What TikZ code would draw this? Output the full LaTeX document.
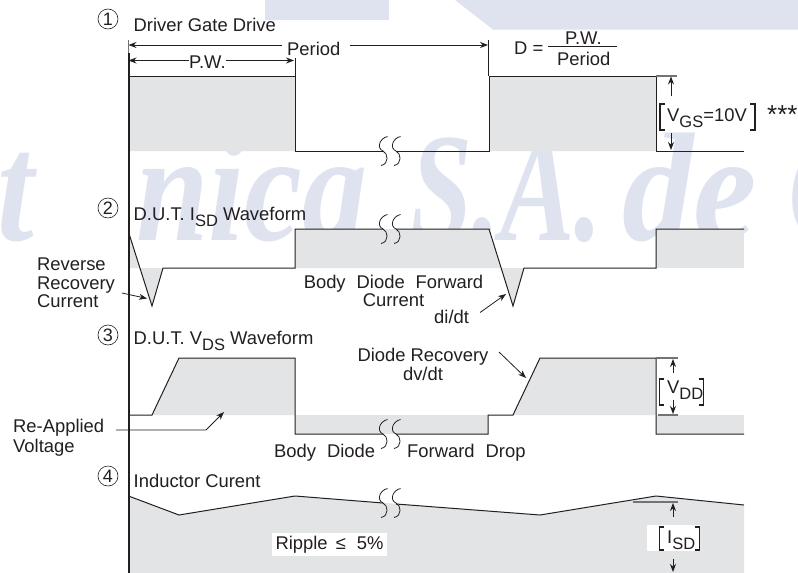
\documentclass[tikz,border=0pt]{standalone}
\usepackage{fontspec}
\setmainfont{Liberation Sans}
\newfontfamily\wmfont{Liberation Serif}
\usetikzlibrary{arrows.meta}
\definecolor{wavegray}{HTML}{E3E4E6}
\definecolor{wmblue}{HTML}{DFE3EF}
\definecolor{ink}{HTML}{231F20}
\newcommand{\subsc}[1]{\raisebox{-6.5pt}{\fontsize{16.5}{16.5}\selectfont #1}}
\newcommand{\gp}{\hspace{11pt}}
\newcommand{\wmtext}[2]{\scalebox{#1}[1]{#2}}
\newcommand{\skewbreak}[2]{%
    \foreach \s in {0,13} {
        \draw[thinline] (#1+\s+4.5,#2-14.5) .. controls (#1+\s-3,#2-13) and (#1+\s-7,#2-3) .. (#1+\s,#2) .. controls (#1+\s+5,#2+2) and (#1+\s+6.5,#2+13) .. (#1+\s-2,#2+14.5);
    }
}
\tikzset{
    every node/.style={font=\fontsize{18.4}{18.4}\selectfont,inner sep=0pt,text=ink},
    label/.style={anchor=base west},
    wave/.style={draw=ink,line width=1pt},
    thinline/.style={draw=ink,line width=0.8pt},
    tick/.style={draw=black!55,line width=1.2pt},
    bracket/.style={draw=ink,line width=1.8pt},
    numdot/.style={circle,draw=ink,line width=0.6pt,minimum size=20pt,font=\fontsize{18}{18}\selectfont},
    wmark/.style={anchor=base west,text=wmblue,font=\wmfont\bfseries\itshape\fontsize{155}{155}\selectfont},
}
\begin{document}
\begin{tikzpicture}[>={Stealth[length=8pt,width=6pt]},x=1pt,y=-1pt,line join=miter]
    \def\xa{128.5} \def\xb{295} \def\xc{489} \def\xd{656} \def\xe{744}
    \clip (0,0) rectangle (798,573);
    \fill[white] (0,0) rectangle (798,573);
    % watermark
    \fill[wmblue] (265,0) rectangle (389,20);
    \fill[wmblue] (455,0)--(798,0)--(798,29.5)--(493,29.5)--cycle;
    \node[wmark] (wmt) at (-3,240) {\wmtext{0.85}{t}};
    \node[wmark] (wmnica) at (136,240) {\wmtext{0.84}{nica}};
    \node[wmark] (wmsa) at (410,240) {\wmtext{0.72}{S.A.}};
    \node[wmark] (wmde) at (622,240) {\wmtext{0.92}{de}};
    \node[wmark] (wmc) at (788,240) {\wmtext{0.8}{C}};
    % gray areas
    \fill[wavegray] (\xa,76) rectangle (\xb,151) (\xc,76) rectangle (\xd,151);
    \fill[wavegray] (\xa,232)--(152,306)--(163,268)--(\xa,268)--cycle;
    \fill[wavegray] (\xb,229)--(\xc,229)--(513,306)--(524,268)--(\xb,268)--cycle;
    \fill[wavegray] (\xd,229) rectangle (\xe,268);
    \fill[wavegray] (152,415)--(179,358)--(\xb,358)--(\xb,415)--cycle;
    \fill[wavegray] (\xb,415) rectangle (488,434);
    \fill[wavegray] (513,415)--(540,358)--(\xd,358)--(\xd,415)--cycle;
    \fill[wavegray] (\xd,415) rectangle (\xe,434);
    \fill[wavegray] (\xa,496)--(179,515)--(\xb,496)--(540,515)--(\xd,496)--(\xe,505)--(\xe,573)--(\xa,573)--cycle;
    % waveforms
    \draw[wave] (\xa,76)--(\xb,76)--(\xb,151)--(383,151);
    \draw[wave] (396,151)--(\xc,151)--(\xc,76)--(\xd,76)--(\xd,151)--(\xe,151);
    \draw[wave] (\xa,232)--(152,306)--(163,268)--(\xb,268)--(\xb,229)--(383,229);
    \draw[wave] (396,229)--(\xc,229)--(513,306)--(524,268)--(\xd,268)--(\xd,229)--(\xe,229);
    \draw[wave] (\xa,415)--(152,415)--(179,358)--(\xb,358)--(\xb,434)--(383,434);
    \draw[wave] (396,434)--(488,434)--(488,415)--(513,415)--(540,358)--(\xd,358)--(\xd,434)--(\xe,434);
    \draw[wave] (\xa,496)--(179,515)--(\xb,496)--(383,503);
    \draw[wave] (396,504)--(540,515)--(\xd,496)--(\xe,505);
    \skewbreak{383}{151} \skewbreak{383}{229} \skewbreak{383}{434} \skewbreak{383}{503}
    % axis
    \draw[tick,line width=1pt] (\xa,40)--(\xa,54);
    \draw[ink,line width=2pt] (\xa,53)--(\xa,573);
    \draw[thinline] (\xb,58)--(\xb,76);
    \draw[thinline] (\xc-0.5,40)--(\xc-0.5,76);
    % numbers and titles
    \node[numdot] (one) at (108,19) {1};
    \node[numdot] (two) at (108,208) {2};
    \node[numdot] (three) at (108,335) {3};
    \node[numdot] (four) at (108,476) {4};
    \node[label] (gatedrive) at (133.5,31) {Driver Gate Drive};
    \node[label] (isdwave) at (133.5,220) {D.U.T. I\subsc{SD} Waveform};
    \node[label] (vdswave) at (133.5,344) {D.U.T. V\subsc{DS} Waveform};
    \node[label] (indcur) at (133.5,487) {Inductor Curent};
    % period
    \node[label] (period) at (287,55) {Period};
    \node[label] (pw) at (189,68) {P.W.};
    \coordinate (pera) at (\xa,45);
    \coordinate (perb) at (\xc-1,45);
    \coordinate (pwa) at (\xa,60.5);
    \coordinate (pwb) at (\xb-1,60.5);
    \draw[thinline,<-] (pera)--([xshift=-5pt]period.west |- pera);
    \draw[thinline,->] ([xshift=9pt]period.east |- perb)--(perb);
    \draw[thinline,<-] (pwa)--(pw.west |- pwa);
    \draw[thinline,->] (pw.east |- pwb)--(pwb);
    \node[label] (dutyd) at (514,54) {D =};
    \node[label] (dutypw) at (565,44) {P.W.};
    \node[label] (dutyper) at (557,65) {Period};
    \coordinate (fraca) at (548,46);
    \coordinate (fracb) at (617,46);
    \draw[thinline] (fraca)--(fracb);
    % gate voltage
    \node[label] (vgs) at (667,121) {V\subsc{GS}=10V};
    \node[label,font=\fontsize{26}{26}\selectfont] (stars) at (767,123) {***};
    \draw[tick] (\xd,76)--(677,76);
    \coordinate (vgstop) at (671,76.5);
    \coordinate (vgsbot) at (671,150);
    \draw[thinline,->] (671,96)--(vgstop);
    \draw[thinline,->] (671,133)--(vgsbot);
    \draw[bracket] (665,104)--(660,104)--(660,130)--(665,130);
    \draw[bracket] (750,104)--(755,104)--(755,130)--(750,130);
    % diode current
    \node[anchor=north west,align=left] (revrec) at (37,258) {Reverse\\[0pt]Recovery\\[0pt]Current};
    \coordinate (revrecs) at (122,293);
    \coordinate (revrect) at (147,298.5);
    \draw[thinline,->] (revrecs)--(revrect);
    \node[anchor=north,align=center] (bodyfwd) at (393.5,275) {Body\gp Diode\gp Forward\\[0pt]Current};
    \node[label] (didt) at (434,323) {di/dt};
    \coordinate (didtt) at (506,294);
    \draw[thinline,->] ([xshift=11pt,yshift=4pt]didt.east)--(didtt);
    % drain voltage
    \node[anchor=north,align=center] (diorec) at (423,348) {Diode Recovery\\[1pt]dv/dt};
    \coordinate (diorecs) at (499,352);
    \coordinate (diorect) at (526,378);
    \draw[thinline,->] (diorecs)--(diorect);
    \node[anchor=north west,align=left] (reapp) at (13,419) {Re-Applied\\[2pt]Voltage};
    \coordinate (reappa) at (116,430);
    \coordinate (reappb) at (206,430);
    \coordinate (reappc) at (224,412);
    \draw[thinline,->] (reappa)--(reappb)--(reappc);
    \node[label] (bodydrop) at (274,457) {Body\gp Diode};
    \node[label] (fwddrop) at (407,457) {Forward\gp Drop};
    \node[label] (vdd) at (667,393) {V\subsc{DD}};
    \draw[tick] (\xd,358)--(678,358);
    \draw[tick] (658,415)--(678,415);
    \coordinate (vddtop) at (673,359);
    \coordinate (vddbot) at (673,414);
    \draw[thinline,->] (673,373)--(vddtop);
    \draw[thinline,->] (673,400)--(vddbot);
    \draw[bracket] (664,379)--(659.5,379)--(659.5,405)--(664,405);
    \draw[bracket] (699,379)--(703.5,379)--(703.5,405)--(699,405);
    % inductor current
    \node[fill=white,minimum width=115pt,minimum height=23pt] (ripple) at (329.5,544.5) {Ripple\gp $\!$≤\gp 5\%};
    \node[fill=white,minimum width=53pt,minimum height=26pt] (isdbox) at (673.5,538) {};
    \node[label] (isd) at (667,543) {I\subsc{SD}};
    \draw[tick] (633,502)--(678,502);
    \coordinate (isdtop) at (673,503);
    \coordinate (isdbot) at (673,572);
    \draw[thinline,->] (673,517)--(isdtop);
    \draw[thinline,->] (673,559)--(isdbot);
    \draw[bracket] (664,527)--(659.5,527)--(659.5,550)--(664,550);
    \draw[bracket] (695,527)--(699.5,527)--(699.5,550)--(695,550);
\end{tikzpicture}
\end{document}
